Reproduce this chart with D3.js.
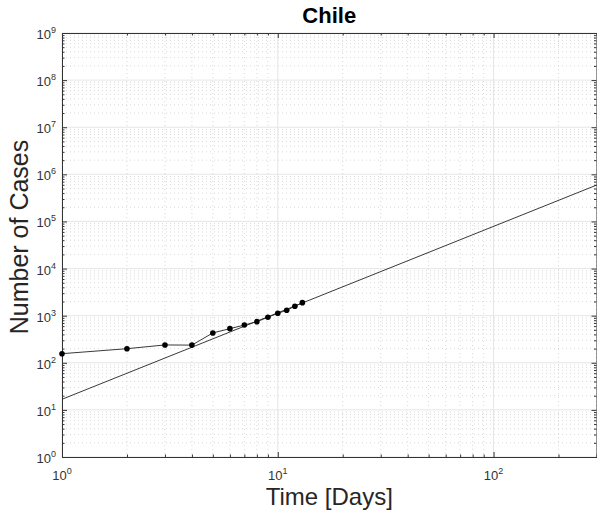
<!DOCTYPE html>
<html>
<head>
<meta charset="utf-8">
<script src="https://cdn.jsdelivr.net/npm/d3@7"></script>
<style>
  body { margin: 0; background: #fff; }
  text { font-family: "Liberation Sans", Arial, sans-serif; }
</style>
</head>
<body>
<div id="wrapper"></div>
<script>
// Data
const days = [1, 2, 3, 4, 5, 6, 7, 8, 9, 10, 11, 12, 13]
const cases = [156, 199, 239, 237, 430, 530, 632, 746, 925, 1122, 1303, 1585, 1888]
// fitted power-law line, two end points
const fitDays = [1, 300]
const fitCases = [16.8, 5.9e5]
const xTickExps = [0, 1, 2]
const yTickExps = [0, 1, 2, 3, 4, 5, 6, 7, 8, 9]

const dimensions = {
    width: 597,
    height: 516,
    margin: { top: 33, right: 0.5, bottom: 59, left: 62 },
}
dimensions.boundedWidth = dimensions.width - dimensions.margin.left - dimensions.margin.right
dimensions.boundedHeight = dimensions.height - dimensions.margin.top - dimensions.margin.bottom

const svg = d3.select("#wrapper").append("svg")
    .attr("width", dimensions.width)
    .attr("height", dimensions.height)
const bounds = svg.append("g")
    .attr("transform", `translate(${dimensions.margin.left},${dimensions.margin.top})`)

const xScale = d3.scaleLog().domain([1, 300]).range([0, dimensions.boundedWidth])
const yScale = d3.scaleLog().domain([1, 1e9]).range([dimensions.boundedHeight, 0])

const W = dimensions.boundedWidth, H = dimensions.boundedHeight

// ticks lists
const xMajor = xTickExps.map(e => Math.pow(10, e)).filter(v => v <= 300)
const xMinor = []
xTickExps.forEach(e => { for (let k = 2; k <= 9; k++) { const v = k * Math.pow(10, e); if (v <= 300) xMinor.push(v) } })
const yMajor = yTickExps.map(e => Math.pow(10, e))
const yMinor = []
yTickExps.slice(0, -1).forEach(e => { for (let k = 2; k <= 9; k++) yMinor.push(k * Math.pow(10, e)) })

// minor grid (dotted)
const grid = bounds.append("g")
grid.selectAll(".xmin").data(xMinor).join("line")
    .attr("x1", d => xScale(d)).attr("x2", d => xScale(d))
    .attr("y1", 0).attr("y2", H)
    .attr("stroke", "#cfcfcf").attr("stroke-width", 0.8).attr("stroke-dasharray", "1,3")
grid.selectAll(".ymin").data(yMinor).join("line")
    .attr("y1", d => yScale(d)).attr("y2", d => yScale(d))
    .attr("x1", 0).attr("x2", W)
    .attr("stroke", "#cfcfcf").attr("stroke-width", 0.8).attr("stroke-dasharray", "1,3")
// major grid
grid.selectAll(".xmaj").data(xMajor).join("line")
    .attr("x1", d => xScale(d)).attr("x2", d => xScale(d))
    .attr("y1", 0).attr("y2", H)
    .attr("stroke", "#e6e6e6").attr("stroke-width", 1)
grid.selectAll(".ymaj").data(yMajor).join("line")
    .attr("y1", d => yScale(d)).attr("y2", d => yScale(d))
    .attr("x1", 0).attr("x2", W)
    .attr("stroke", "#e6e6e6").attr("stroke-width", 1)

// inward ticks on all four sides
const axisColor = "#333"
const axes = [
    d3.axisBottom(xScale).tickValues(xMajor.concat(xMinor)),
    d3.axisTop(xScale).tickValues(xMajor.concat(xMinor)),
    d3.axisLeft(yScale).tickValues(yMajor.concat(yMinor)),
    d3.axisRight(yScale).tickValues(yMajor.concat(yMinor)),
]
const shifts = [[0, H], [0, 0], [0, 0], [W, 0]]
axes.forEach((ax, i) => {
    const isMajor = (d) => xMajor.includes(d) || yMajor.includes(d)
    const g = bounds.append("g")
        .attr("transform", `translate(${shifts[i][0]},${shifts[i][1]})`)
        .call(ax.tickFormat("").tickSizeOuter(0))
    g.select(".domain").attr("stroke", axisColor)
    const dir = (i === 0 || i === 3) ? -1 : 1
    g.selectAll(".tick line").attr("stroke", axisColor)
        .each(function (d) {
            const len = isMajor(d) ? 5 : 2.5
            const sel = d3.select(this)
            if (i < 2) sel.attr("y2", dir * len).attr("y1", 0)
            else sel.attr("x2", dir * len).attr("x1", 0)
        })
})

// tick labels: 10^n
const xl = bounds.append("g").selectAll("text").data(xMajor).join("text")
    .attr("x", d => xScale(d)).attr("y", H + 23)
    .attr("text-anchor", "middle").attr("font-size", 13).attr("fill", "#333")
xl.append("tspan").text("10")
xl.append("tspan").text(d => Math.round(Math.log10(d)))
    .attr("font-size", 9).attr("dy", -6)

const yl = bounds.append("g").selectAll("text").data(yMajor).join("text")
    .attr("x", -6).attr("y", d => yScale(d) + 6)
    .attr("text-anchor", "end").attr("font-size", 13).attr("fill", "#333")
yl.append("tspan").text("10")
yl.append("tspan").text(d => Math.round(Math.log10(d)))
    .attr("font-size", 9).attr("dy", -6)

// fitted line
const lineGenerator = d3.line()
    .x(d => xScale(d[0]))
    .y(d => yScale(d[1]))
bounds.append("path")
    .attr("d", lineGenerator(d3.zip(fitDays, fitCases)))
    .attr("fill", "none").attr("stroke", "#222").attr("stroke-width", 0.9)

// data line with markers
bounds.append("path")
    .attr("d", lineGenerator(d3.zip(days, cases)))
    .attr("fill", "none").attr("stroke", "#222").attr("stroke-width", 0.9)
bounds.selectAll("circle").data(d3.zip(days, cases)).join("circle")
    .attr("cx", d => xScale(d[0])).attr("cy", d => yScale(d[1]))
    .attr("r", 2.8).attr("fill", "#000")

// labels
svg.append("text")
    .attr("x", dimensions.margin.left + W / 2).attr("y", 23)
    .attr("text-anchor", "middle").attr("font-size", 22).attr("font-weight", "bold")
    .attr("fill", "#000").text("Chile")
svg.append("text")
    .attr("x", dimensions.margin.left + W / 2).attr("y", 505)
    .attr("text-anchor", "middle").attr("font-size", 24).attr("fill", "#262626")
    .text("Time [Days]")
svg.append("text")
    .attr("transform", `translate(28,237) rotate(-90)`)
    .attr("text-anchor", "middle").attr("font-size", 25).attr("fill", "#262626")
    .text("Number of Cases")
</script>
</body>
</html>
